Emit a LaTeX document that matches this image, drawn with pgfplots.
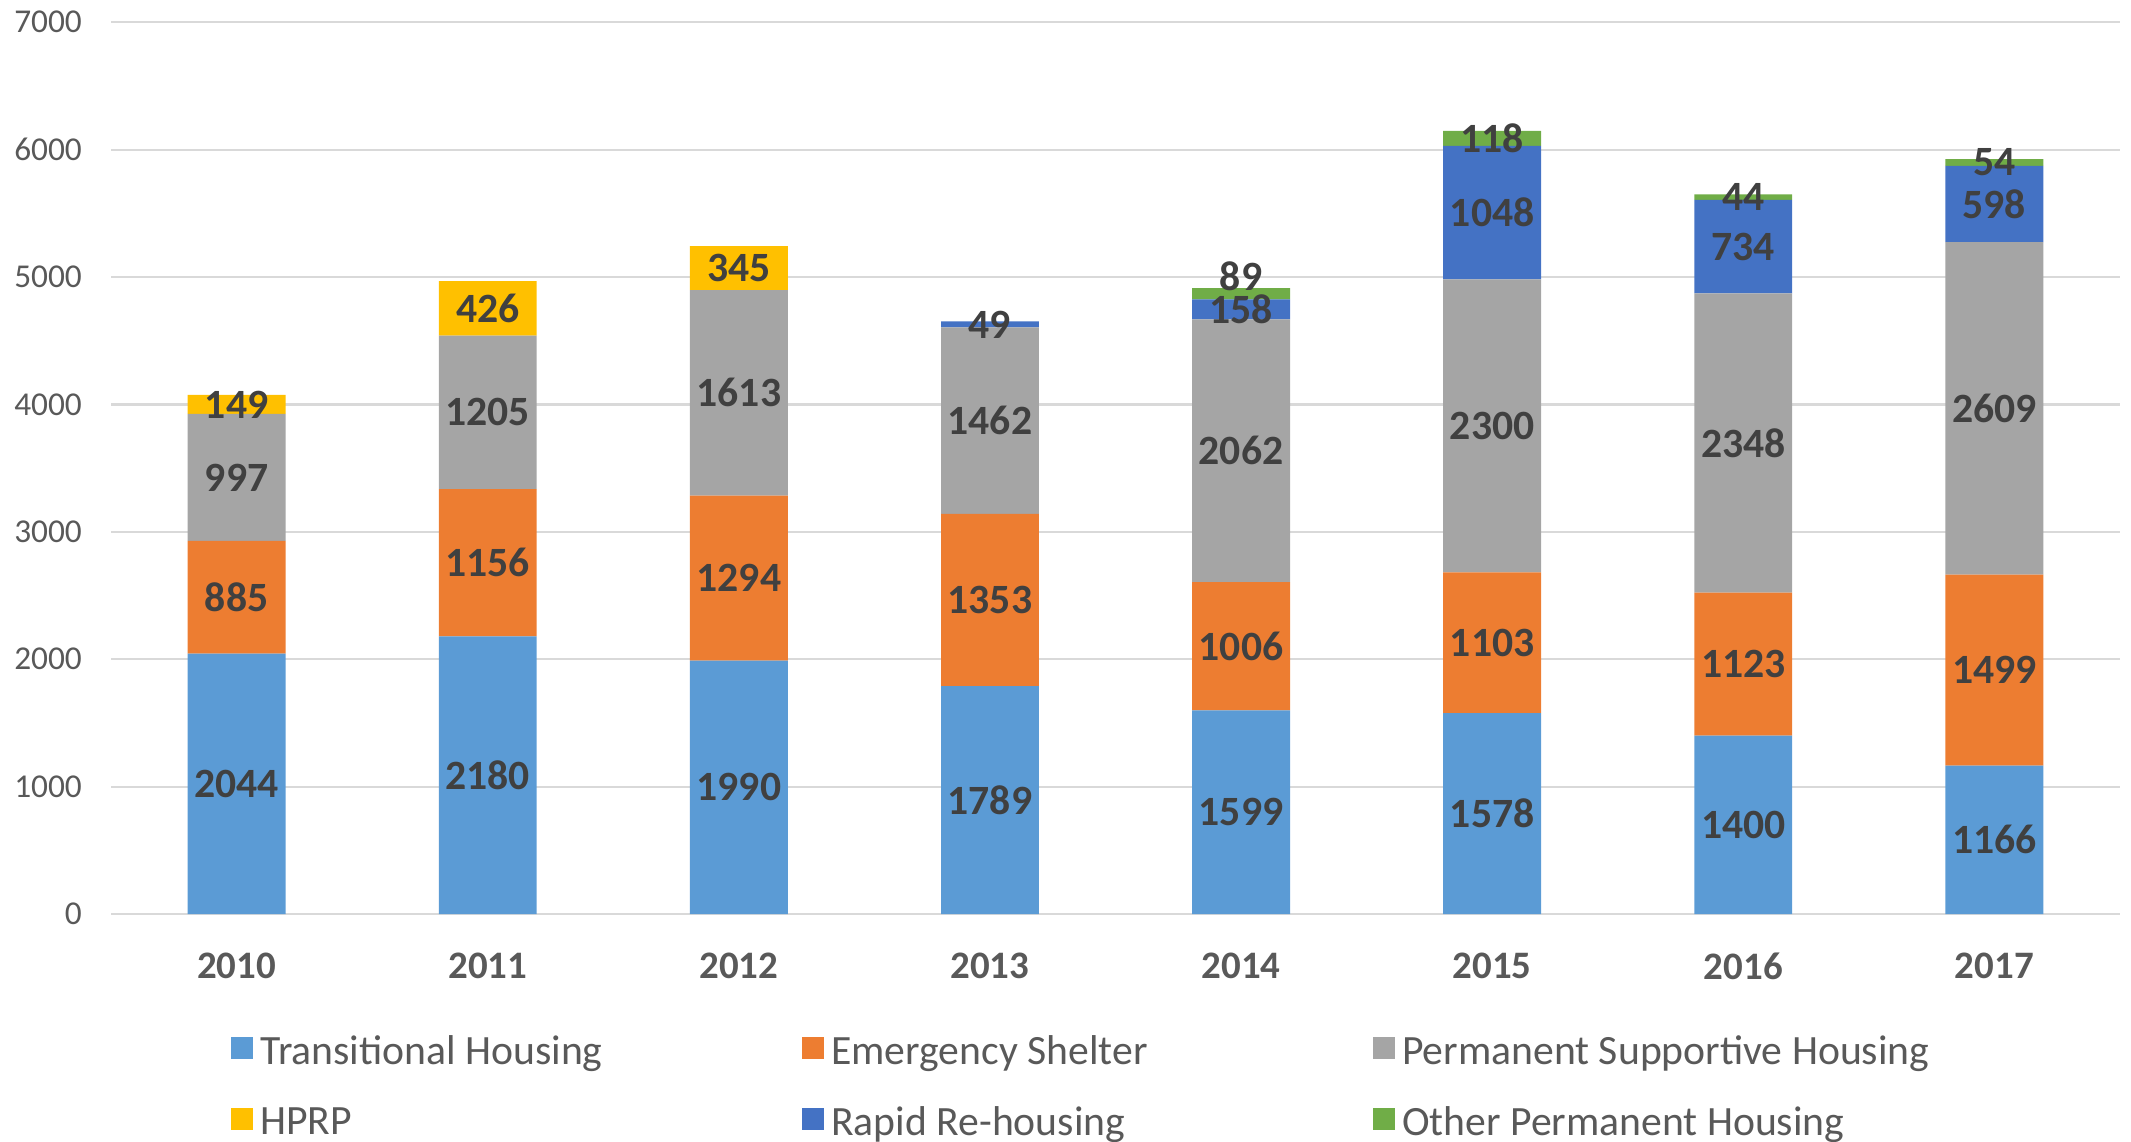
\documentclass[border=0pt]{standalone}
\usepackage{pgfplots}
\pgfplotsset{compat=1.18}
\usepackage{pgfplotstable}
\usepackage{fontspec}
\setmainfont{Carlito}
\definecolor{cTH}{HTML}{5B9BD5}
\definecolor{cES}{HTML}{ED7D31}
\definecolor{cPSH}{HTML}{A5A5A5}
\definecolor{cHPRP}{HTML}{FFC000}
\definecolor{cRR}{HTML}{4472C4}
\definecolor{cOPH}{HTML}{70AD47}
\definecolor{gridc}{HTML}{D9D9D9}
\definecolor{txt}{HTML}{595959}
\definecolor{lbl}{HTML}{404040}

\pgfplotstableread{
x TH ES PSH HPRP RR OPH
0 2044 885 997 149 0 0
1 2180 1156 1205 426 0 0
2 1990 1294 1613 345 0 0
3 1789 1353 1462 0 49 0
4 1599 1006 2062 0 158 89
5 1578 1103 2300 0 1048 118
6 1400 1123 2348 0 734 44
7 1166 1499 2609 0 598 54
}\data

\begin{document}
\begin{tikzpicture}
\useasboundingbox (-40pt,-82pt) rectangle (727pt,329pt);
\begin{axis}[
  at={(0,0)}, anchor=south west,
  scale only axis, width=723pt, height=321pt,
  ybar stacked, bar width=0.39,
  xmin=-0.5, xmax=7.5, ymin=0, ymax=7000,
  xtick={0,1,2,3,4,5,6,7},
  xticklabels={2010,2011,2012,2013,2014,2015,2016,2017},
  ytick={0,1000,...,7000},
  /pgf/number format/assume math mode=true,
  /pgf/number format/1000 sep={},
  ymajorgrids, grid style={gridc, line width=0.8pt},
  axis line style={draw=none},
  tick style={draw=none},
  yticklabel style={font=\fontsize{12}{14}\selectfont, text=txt, anchor=east, xshift=-7pt},
  xticklabel style={font=\fontsize{14}{16}\selectfont\bfseries, text=txt, anchor=center, yshift=-18.7pt},
  point meta=explicit,
  nodes near coords={\pgfmathfloatifflags{\pgfplotspointmeta}{0}{}{\pgfmathprintnumber{\pgfplotspointmeta}}},
  every node near coord/.append style={anchor=center,
     font=\fontsize{15}{18}\selectfont\bfseries, text=lbl, inner sep=0pt},
  legend columns=3,
  legend style={draw=none, fill=none, at={(0,0)}, anchor=north west, xshift=40pt, yshift=-39.5pt,
     font=\fontsize{15}{18}\selectfont, text=txt, column sep=0pt, row sep=9.8pt,
     nodes={inner xsep=1.5pt, inner ysep=2pt}},
  legend image code/.code={\fill[#1] (0pt,-2.5pt) rectangle (8pt,5.5pt);},
]
\addplot[fill=cTH, draw=none] table[x=x, y=TH, meta=TH] {\data};
\addplot[fill=cES, draw=none] table[x=x, y=ES, meta=ES] {\data};
\addplot[fill=cPSH, draw=none] table[x=x, y=PSH, meta=PSH] {\data};
\addplot[fill=cHPRP, draw=none] table[x=x, y=HPRP, meta=HPRP] {\data};
\addplot[fill=cRR, draw=none] table[x=x, y=RR, meta=RR] {\data};
\addplot[fill=cOPH, draw=none,
  visualization depends on={\thisrow{x} \as \xv},
  every node near coord/.append style={yshift={ifthenelse(\xv==4,6.4,0)}}]
  table[x=x, y=OPH, meta=OPH] {\data};
\legend{\hspace{1pt}\makebox[193.5pt][l]{Transitional Housing},\hspace{1pt}\makebox[193.5pt][l]{Emergency Shelter},\hspace{1pt}\makebox[193.5pt][l]{Permanent Supportive Housing},\hspace{1pt}\makebox[193.5pt][l]{HPRP},\hspace{1pt}\makebox[193.5pt][l]{Rapid Re-housing},\hspace{1pt}\makebox[193.5pt][l]{Other Permanent Housing}}
\end{axis}
\end{tikzpicture}
\end{document}
